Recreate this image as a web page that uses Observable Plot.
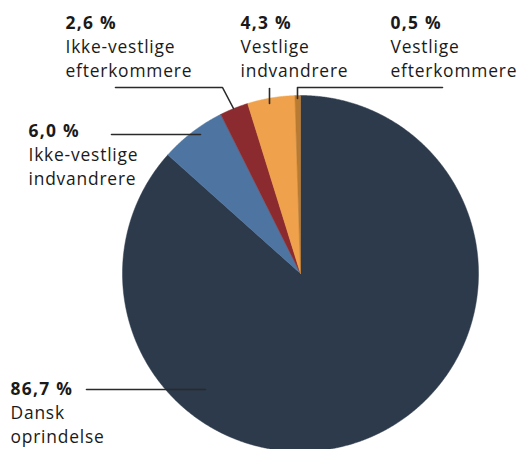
<!DOCTYPE html>
<html>
<head>
<meta charset="utf-8">
<script src="https://cdn.jsdelivr.net/npm/d3@7"></script>
<script src="https://cdn.jsdelivr.net/npm/@observablehq/plot@0.6"></script>
<style>
  html, body { margin: 0; padding: 0; background: #fff; }
  #chart svg { display: block; }
</style>
</head>
<body>
<div id="chart"></div>
<script>
// ---- data ----
const categories = ["Dansk oprindelse", "Ikke-vestlige indvandrere", "Ikke-vestlige efterkommere", "Vestlige indvandrere", "Vestlige efterkommere"];
const values = [86.7, 6.0, 2.6, 4.3, 0.5];
const valueLabels = ["86,7 %", "6,0 %", "2,6 %", "4,3 %", "0,5 %"];
const nameLines = [["Dansk", "oprindelse"], ["Ikke-vestlige", "indvandrere"], ["Ikke-vestlige", "efterkommere"], ["Vestlige", "indvandrere"], ["Vestlige", "efterkommere"]];
const colors = ["#2d3a4b", "#4e75a1", "#8c2b2f", "#efa24b", "#b97a32"];

// ---- layout (pixels) ----
const W = 521, H = 449;
const CX = 300, CY = 273, R = 178;
const FS = 17.4, LH = 24;
const labelAt = [[10, 394], [28, 136], [65, 28], [240, 28], [390, 28]]; // baseline of first line
const leaders = [
  [[86, 389], [205, 389]],
  [[111, 134], [200, 134]],
  [[115, 87], [222, 87], [233, 108]],
  [[269, 88], [269, 103]],
  [[442, 87], [297, 87], [297, 98]]
];

// ---- pie geometry from the data ----
const arcs = d3.pie().sort(null).value(d => d)(values);
const slicePts = [];
arcs.forEach((a, i) => {
  const n = Math.max(2, Math.ceil((a.endAngle - a.startAngle) / 0.005));
  slicePts.push({cat: categories[i], x: CX, y: CY});
  for (let k = 0; k <= n; k++) {
    const t = a.startAngle + (a.endAngle - a.startAngle) * k / n;
    slicePts.push({cat: categories[i], x: CX + R * Math.sin(t), y: CY - R * Math.cos(t)});
  }
  slicePts.push({cat: categories[i], x: CX, y: CY});
});

const leaderPts = leaders.flatMap((pts, i) => pts.map(([x, y]) => ({cat: categories[i], x, y})));

const textRows = [];
categories.forEach((c, i) => {
  const [x, y] = labelAt[i];
  textRows.push({x, y, text: valueLabels[i], bold: true});
  nameLines[i].forEach((t, j) => textRows.push({x, y: y + LH * (j + 1), text: t, bold: false}));
});

const plot = Plot.plot({
  width: W,
  height: H,
  margin: 0,
  style: {background: "#fff", fontFamily: "'Open Sans', sans-serif"},
  x: {domain: [0, W], range: [0, W], axis: null},
  y: {domain: [0, H], range: [0, H], axis: null},
  color: {domain: categories, range: colors},
  marks: [
    Plot.line(slicePts, {x: "x", y: "y", z: "cat", fill: "cat", stroke: "cat", strokeWidth: 0.5, curve: "linear", clip: "frame"}),
    Plot.line(leaderPts, {x: "x", y: "y", z: "cat", stroke: "#2a2a2a", strokeWidth: 1.6}),
    Plot.text(textRows.filter(d => d.bold), {x: "x", y: "y", text: "text", textAnchor: "start", lineAnchor: "bottom", fontSize: FS, fontWeight: "bold", fill: "#1a1a1a"}),
    Plot.text(textRows.filter(d => !d.bold), {x: "x", y: "y", text: "text", textAnchor: "start", lineAnchor: "bottom", fontSize: FS, fill: "#1a1a1a"})
  ]
});
plot.querySelectorAll("g[font-size]").forEach(g => {
  g.setAttribute("letter-spacing", g.getAttribute("font-weight") === "bold" ? "1.3px" : "0.8px");
});
document.getElementById("chart").appendChild(plot);
</script>
</body>
</html>
